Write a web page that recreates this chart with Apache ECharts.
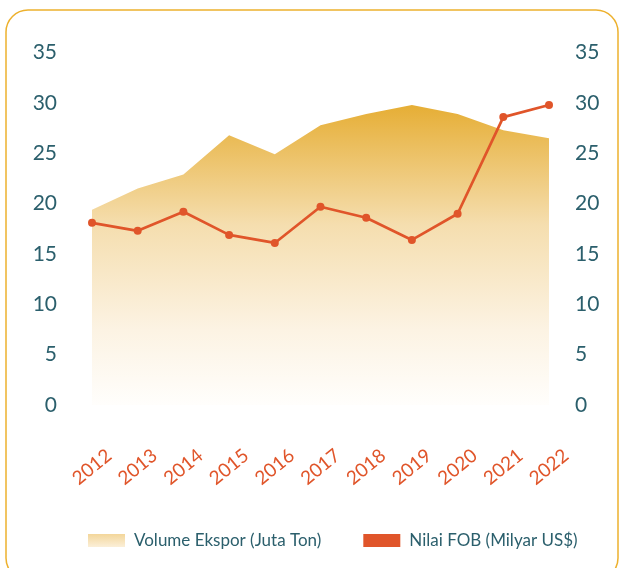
<!DOCTYPE html>
<html>
<head>
<meta charset="utf-8">
<script src="https://cdn.jsdelivr.net/npm/echarts@6/dist/echarts.min.js"></script>
<style>
html,body{margin:0;padding:0;background:#fff;}
#c{width:619px;height:568px;}
</style>
</head>
<body>
<div id="c"></div>
<script>
const years = ['2012','2013','2014','2015','2016','2017','2018','2019','2020','2021','2022'];
const volumeEkspor = [19.4, 21.5, 22.9, 26.8, 24.9, 27.8, 28.9, 29.8, 28.9, 27.3, 26.5];
const nilaiFOB = [18.1, 17.3, 19.2, 16.9, 16.1, 19.7, 18.6, 16.4, 19.0, 28.6, 29.8];
const yTicks = { min: 0, max: 35, interval: 5 };
const seriesNames = ['Volume Ekspor (Juta Ton)', 'Nilai FOB (Milyar US$)'];

const teal = '#2B5F6C';
const orange = '#E0552A';
const fontFam = 'Lato, "Open Sans", sans-serif';

const areaGrad = new echarts.graphic.LinearGradient(0, 0, 0, 1, [
  { offset: 0, color: '#E6AE35' },
  { offset: 0.4, color: '#F5DEAF' },
  { offset: 0.75, color: '#FCF3E3' },
  { offset: 1, color: '#FFFEFC' }
]);
const legendGrad = new echarts.graphic.LinearGradient(0, 0, 0, 1, [
  { offset: 0, color: '#F3D69A' },
  { offset: 1, color: '#FBEFD8' }
]);

const chart = echarts.init(document.getElementById('c'), null, { renderer: 'canvas' });
chart.setOption({
  backgroundColor: '#ffffff',
  animation: false,
  graphic: [{
    type: 'rect',
    z: -10,
    shape: { x: 6, y: 10, width: 612, height: 570, r: 22 },
    style: { fill: 'transparent', stroke: '#EDB12E', lineWidth: 1.5 }
  }],
  grid: { left: 92, right: 70, top: 52.7, bottom: 163, containLabel: false },
  legend: {
    left: 83, top: 527,
    itemWidth: 37, itemHeight: 13, itemGap: 42,
    textStyle: { color: teal, fontSize: 17, fontFamily: fontFam, padding: [0, 0, 0, 4] },
    data: [
      { name: seriesNames[0], icon: 'rect', itemStyle: { color: legendGrad } },
      { name: seriesNames[1], icon: 'rect', itemStyle: { color: orange } }
    ]
  },
  xAxis: {
    type: 'category',
    data: years,
    boundaryGap: false,
    axisLine: { show: false },
    axisTick: { show: false },
    splitLine: { show: false },
    axisLabel: {
      rotate: 39,
      align: 'center',
      verticalAlign: 'middle',
      margin: 62,
      color: orange,
      fontSize: 19,
      fontFamily: fontFam,
      interval: 0
    }
  },
  yAxis: [
    {
      type: 'value', min: yTicks.min, max: yTicks.max, interval: yTicks.interval,
      position: 'left',
      axisLine: { show: false }, axisTick: { show: false }, splitLine: { show: false },
      axisLabel: { color: teal, fontSize: 21, fontFamily: fontFam, margin: 35 }
    },
    {
      type: 'value', min: yTicks.min, max: yTicks.max, interval: yTicks.interval,
      position: 'right',
      axisLine: { show: false }, axisTick: { show: false }, splitLine: { show: false },
      axisLabel: { color: teal, fontSize: 21, fontFamily: fontFam, margin: 26 }
    }
  ],
  series: [
    {
      name: seriesNames[0],
      type: 'line',
      data: volumeEkspor,
      yAxisIndex: 0,
      symbol: 'none',
      lineStyle: { width: 0 },
      itemStyle: { color: '#EDC56E' },
      areaStyle: { color: areaGrad, opacity: 1 },
      z: 1
    },
    {
      name: seriesNames[1],
      type: 'line',
      data: nilaiFOB,
      yAxisIndex: 0,
      symbol: 'circle',
      symbolSize: 8,
      lineStyle: { color: orange, width: 2.7 },
      itemStyle: { color: orange },
      z: 3
    }
  ]
});
</script>
</body>
</html>
